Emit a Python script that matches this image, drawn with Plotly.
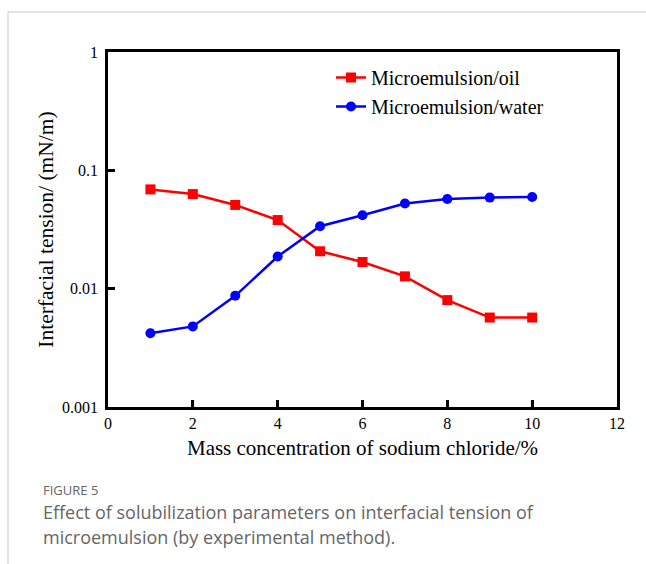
import plotly.graph_objects as go

nacl = [1, 2, 3, 4, 5, 6, 7, 8, 9, 10]
oil = [0.069, 0.063, 0.051, 0.038, 0.0207, 0.0168, 0.0127, 0.0080, 0.0057, 0.0057]
water = [0.0042, 0.0048, 0.0087, 0.0187, 0.0337, 0.0417, 0.0524, 0.0573, 0.0588, 0.0596]
ytickvals = [0.001, 0.01, 0.1, 1]
yticktext = ["0.001 ", "0.01 ", "0.1 ", "1 "]
xtickvals = [0, 2, 4, 6, 8, 10, 12]

W, H = 646, 564
L, R, T, B = 108, 617, 52, 407
TICK = 7


def px(x):
    return (x - L) / (R - L)


def py(y):
    return (B - y) / (B - T)


serif = "Liberation Serif, Times New Roman, serif"

fig = go.Figure()
fig.add_trace(go.Scatter(x=nacl, y=oil, mode="lines+markers", name="Microemulsion/oil",
                         line=dict(color="#ff0000", width=2.5),
                         marker=dict(symbol="square", size=10, color="#ff0000")))
fig.add_trace(go.Scatter(x=nacl, y=water, mode="lines+markers", name="Microemulsion/water",
                         line=dict(color="#0000ff", width=2.5),
                         marker=dict(symbol="circle", size=10, color="#0000ff")))

fig.update_layout(
    width=W, height=H,
    margin=dict(l=L, r=W - R, t=T, b=H - B),
    paper_bgcolor="white", plot_bgcolor="white",
    showlegend=True,
    legend=dict(x=px(331), y=py(58), xanchor="left", yanchor="top",
                font=dict(family=serif, size=20, color="black"),
                bgcolor="rgba(0,0,0,0)", tracegroupgap=0),
    xaxis=dict(range=[0, 12], tickmode="array", tickvals=xtickvals, ticks="inside", ticklen=TICK,
               tickwidth=2.5, tickcolor="#000000", showline=True, linecolor="black", linewidth=2.5,
               mirror=True, showgrid=False, zeroline=False,
               tickfont=dict(family=serif, size=16, color="black"),
               title=dict(text="Mass concentration of sodium chloride/%",
                          font=dict(family=serif, size=21, color="black"), standoff=10)),
    yaxis=dict(type="log", range=[-3, 0], tickmode="array", tickvals=ytickvals, ticktext=yticktext,
               ticks="inside", ticklen=TICK, tickwidth=2.5, tickcolor="#000000",
               showline=True, linecolor="black", linewidth=2.5, mirror=True,
               showgrid=False, zeroline=False,
               tickfont=dict(family=serif, size=16, color="black"),
               title=dict(text="Interfacial tension/ (mN/m)",
                          font=dict(family=serif, size=21.5, color="black"), standoff=3)),
)

# explicit inside tick marks, positioned by the axes' own scales
for v in xtickvals[1:-1]:
    fig.add_shape(type="line", xref="x", yref="paper", x0=v, x1=v, y0=0, y1=TICK / (B - T),
                  line=dict(color="black", width=2.5), layer="above")
for v in ytickvals[1:-1]:
    fig.add_shape(type="line", xref="paper", yref="y", x0=0, x1=TICK / (R - L), y0=v, y1=v,
                  line=dict(color="black", width=2.5), layer="above")

# frame lines of the figure panel
fig.add_shape(type="line", xref="paper", yref="paper", x0=px(8), x1=px(646), y0=py(12), y1=py(12),
              line=dict(color="#c8c8c8", width=1))
fig.add_shape(type="line", xref="paper", yref="paper", x0=px(8), x1=px(8), y0=py(12), y1=py(564),
              line=dict(color="#c8c8c8", width=1))

cap = "Open Sans, Noto Sans, sans-serif"
fig.add_annotation(xref="paper", yref="paper", x=px(41), y=py(490), xanchor="left", yanchor="middle",
                   text="FIGURE 5", showarrow=False, font=dict(family=cap, size=13, color="#666666"))
fig.add_annotation(xref="paper", yref="paper", x=px(41), y=py(512), xanchor="left", yanchor="middle",
                   text="Effect of solubilization parameters on interfacial tension of",
                   showarrow=False, font=dict(family=cap, size=18, color="#666666"))
fig.add_annotation(xref="paper", yref="paper", x=px(41), y=py(537), xanchor="left", yanchor="middle",
                   text="microemulsion (by experimental method).",
                   showarrow=False, font=dict(family=cap, size=18, color="#666666"))

fig.write_html("out.html")
